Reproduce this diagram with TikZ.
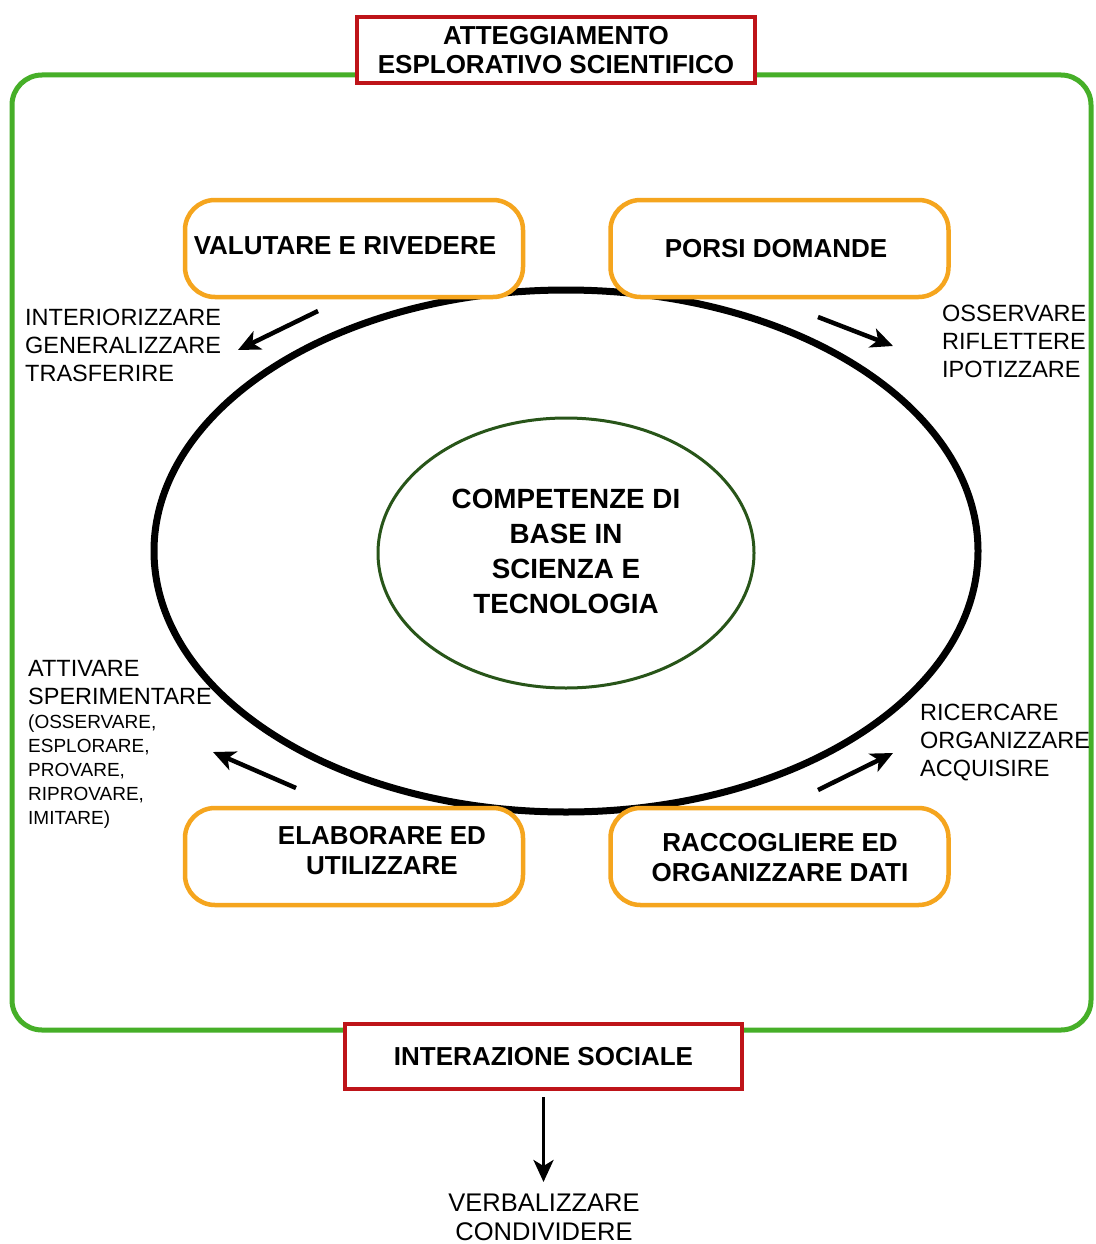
\documentclass[tikz,border=0pt]{standalone}
\usepackage{fontspec}
\setmainfont{Liberation Sans}
\usetikzlibrary{shapes.geometric,arrows.meta}
\definecolor{frameg}{RGB}{70,175,40}
\definecolor{boxred}{RGB}{190,20,25}
\definecolor{boxor}{RGB}{245,165,30}
\definecolor{dkgreen}{RGB}{40,85,25}
\tikzset{
  redbox/.style={draw=boxred, line width=4pt, fill=white, minimum width=398pt, minimum height=66pt, inner sep=0pt, align=center, font=\fontsize{26pt}{29pt}\selectfont\bfseries},
  obox/.style={draw=boxor, line width=4.5pt, fill=white, rounded corners=30pt, minimum width=338pt, minimum height=97pt, inner sep=0pt},
  btxt/.style={align=center, inner sep=0pt, font=\fontsize{26pt}{30pt}\selectfont\bfseries},
  lbl/.style={align=left, anchor=north west, inner sep=0pt, font=\fontsize{23.5pt}{28pt}\selectfont},
  smlbl/.style={align=left, anchor=north west, inner sep=0pt, font=\fontsize{19pt}{24pt}\selectfont},
  arr/.style={line width=4.5pt, -{Stealth[length=22pt, width=20pt, inset=6pt]}}
}
\begin{document}
\begin{tikzpicture}[x=1pt,y=-1pt]
\fill[white] (0,0) rectangle (1095,1244);
\useasboundingbox (0,0) rectangle (1095,1244);
% green frame
\draw[frameg, line width=5pt, rounded corners=30pt] (12,75) rectangle (1091,1030);
% big cycle ellipse
\node[draw, ellipse, line width=7pt, minimum width=824pt, minimum height=522pt, inner sep=0pt] (cycle) at (566,551) {};
% inner ellipse
\node[ellipse, draw=dkgreen, line width=3pt, minimum width=376pt, minimum height=270pt, inner sep=0pt] (core) at (566,553) {};
\node[align=center, inner sep=0pt, font=\fontsize{27.8pt}{35pt}\selectfont\bfseries] (coret) at (566,551) {COMPETENZE DI\\BASE IN\\SCIENZA E\\TECNOLOGIA};
% red boxes
\node[redbox] (title) at (556,50) {ATTEGGIAMENTO\\ESPLORATIVO SCIENTIFICO};
\node[redbox, minimum width=397pt, minimum height=65pt] (soc) at (543.5,1056.5) {INTERAZIONE SOCIALE};
% orange boxes
\node[obox] (valu) at (354,248.5) {};
\node[btxt] (valut) at (345,246) {VALUTARE E RIVEDERE};
\node[obox] (porsi) at (779.5,248.5) {};
\node[btxt] (porsit) at (776,249) {PORSI DOMANDE};
\node[obox] (elab) at (354,856.5) {};
\node[btxt] (elabt) at (382,851) {ELABORARE ED\\UTILIZZARE};
\node[obox] (racc) at (779.5,856.5) {};
\node[btxt] (racct) at (780,858) {RACCOGLIERE ED\\ORGANIZZARE DATI};
% labels
\node[lbl] (tl) at (25,309) {INTERIORIZZARE\\GENERALIZZARE\\TRASFERIRE};
\node[lbl] (tr) at (942,305) {OSSERVARE\\RIFLETTERE\\IPOTIZZARE};
\node[lbl] (bl) at (28,660) {ATTIVARE\\SPERIMENTARE};
\node[smlbl] (bls) at (28,715) {(OSSERVARE,\\ESPLORARE,\\PROVARE,\\RIPROVARE,\\IMITARE)};
\node[lbl] (br) at (920,704) {RICERCARE\\ORGANIZZARE\\ACQUISIRE};
\node[align=center, anchor=north, inner sep=0pt, font=\fontsize{25.5pt}{29pt}\selectfont] (verb) at (544,1194) {VERBALIZZARE\\CONDIVIDERE};
% arrows
\coordinate (a1s) at (318,311); \coordinate (a1e) at (238,350);
\coordinate (a2s) at (818,317); \coordinate (a2e) at (893,346);
\coordinate (a3s) at (296,788); \coordinate (a3e) at (213,752);
\coordinate (a4s) at (818,790); \coordinate (a4e) at (893,753);
\draw[arr] (a1s) -- (a1e);
\draw[arr] (a2s) -- (a2e);
\draw[arr] (a3s) -- (a3e);
\draw[arr] (a4s) -- (a4e);
\draw[arr, line width=3.5pt] ([yshift=-6pt]soc.south) -- ([yshift=-6pt]soc.south |- 0,1176);
\end{tikzpicture}
\end{document}
